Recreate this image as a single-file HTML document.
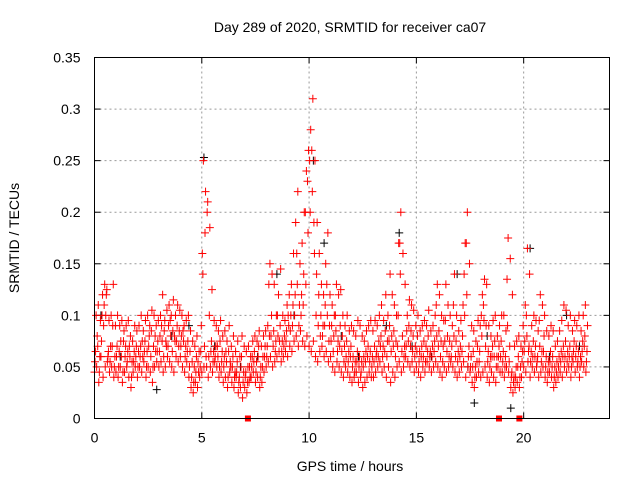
<!DOCTYPE html>
<html><head><meta charset="utf-8">
<style>
body{margin:0;background:#fff;}
svg{display:block;font-family:"Liberation Sans",sans-serif;}
</style></head>
<body>
<svg id="chart" width="640" height="480" xmlns="http://www.w3.org/2000/svg">
<text x="350" y="32" font-size="14" text-anchor="middle">Day 289 of 2020, SRMTID for receiver ca07</text>
<text x="350" y="471" font-size="14" text-anchor="middle">GPS time / hours</text>
<text transform="translate(19,238) rotate(-90)" font-size="14" text-anchor="middle">SRMTID / TECUs</text>
<g id="grid"></g><g id="ticks"></g><g id="marks"></g>
<rect x="94.5" y="57.5" width="515" height="361" fill="none" stroke="#000" stroke-width="1"/>
</svg>
<script>
const xTicks=[0,5,10,15,20];
const yTicks=[0,0.05,0.1,0.15,0.2,0.25,0.3,0.35];
const yTickLabels=["0","0.05","0.1","0.15","0.2","0.25","0.3","0.35"];
const t0=0, tStep=0.1;
const redLo=[.045,.05,.035,.06,.04,.05,.055,.045,.05,.04,.045,.04,.05,.035,.045,.05,.04,.03,.045,.05,.04,.05,.045,.055,.04,.05,.045,.035,.05,.055,.05,.055,.045,.05,.06,.055,.05,.045,.06,.055,.06,.05,.045,.055,.04,.03,.025,.035,.03,.04,.045,.05,.06,.04,.05,.045,.055,.05,.04,.045,.035,.04,.03,.045,.035,.03,.04,.025,.03,.02,.03,.025,.035,.04,.045,.035,.04,.03,.035,.045,.05,.055,.06,.05,.055,.06,.065,.055,.06,.065,.06,.07,.065,.075,.08,.07,.085,.075,.07,.08,.07,.065,.075,.06,.055,.065,.07,.06,.065,.055,.06,.05,.045,.055,.05,.045,.04,.05,.045,.04,.035,.04,.045,.035,.04,.03,.035,.04,.045,.04,.04,.045,.05,.055,.045,.05,.04,.05,.035,.045,.04,.05,.055,.045,.05,.06,.055,.05,.055,.045,.05,.045,.04,.05,.045,.055,.05,.045,.05,.055,.05,.045,.04,.05,.045,.05,.055,.05,.045,.04,.045,.05,.055,.04,.05,.045,.035,.03,.04,.045,.04,.045,.05,.04,.035,.045,.04,.035,.05,.045,.045,.04,.05,.045,.03,.025,.03,.035,.03,.04,.05,.045,.055,.04,.05,.045,.05,.04,.045,.05,.04,.035,.045,.04,.03,.035,.04,.045,.04,.05,.045,.05,.04,.055,.045,.05,.04,.055,.05,.045];
const redQ=[.055,.08,.045,.075,.09,.1,.06,.055,.07,.05,.06,.05,.075,.045,.06,.055,.07,.04,.055,.06,.05,.06,.075,.065,.05,.07,.06,.05,.08,.065,.065,.09,.06,.075,.07,.095,.065,.08,.075,.07,.07,.085,.06,.065,.05,.04,.035,.045,.055,.05,.16,.07,.05,.06,.065,.055,.06,.07,.05,.055,.05,.065,.04,.055,.05,.04,.045,.035,.05,.035,.04,.035,.05,.05,.055,.045,.06,.04,.05,.06,.06,.13,.08,.07,.065,.1,.075,.065,.07,.075,.1,.085,.09,.1,.16,.09,.1,.11,.2,.23,.25,.26,.19,.1,.09,.08,.08,.09,.13,.075,.075,.065,.1,.065,.07,.065,.055,.06,.055,.06,.05,.045,.055,.05,.045,.05,.055,.06,.055,.05,.055,.06,.06,.07,.06,.065,.06,.075,.065,.07,.06,.07,.17,.065,.06,.07,.075,.07,.065,.06,.065,.055,.06,.06,.055,.065,.06,.06,.065,.11,.07,.06,.055,.075,.065,.06,.06,.11,.06,.055,.06,.065,.14,.17,.06,.05,.05,.04,.055,.055,.1,.11,.07,.055,.05,.06,.06,.05,.06,.06,.055,.05,.135,.055,.04,.035,.04,.05,.04,.055,.065,.1,.065,.055,.06,.06,.055,.095,.055,.065,.05,.045,.055,.05,.04,.045,.05,.055,.06,.06,.055,.06,.05,.065,.06,.055,.05,.065,.07,.055];
const redMid=[.065,.07,.06,.1,.11,.12,.065,.07,.09,.06,.07,.065,.06,.075,.07,.065,.06,.055,.065,.07,.065,.07,.06,.075,.065,.08,.085,.07,.065,.075,.08,.075,.085,.07,.09,.08,.085,.075,.09,.085,.08,.075,.07,.075,.065,.055,.05,.06,.045,.065,.14,.18,.2,.1,.075,.065,.07,.06,.075,.065,.06,.055,.065,.05,.06,.045,.055,.04,.06,.045,.045,.05,.04,.06,.065,.055,.07,.05,.06,.07,.07,.08,.1,.085,.075,.08,.09,.075,.08,.085,.09,.1,.11,.12,.13,.11,.12,.14,.13,.18,.2,.22,.16,.14,.12,.1,.09,.11,.1,.09,.09,.08,.085,.075,.09,.08,.07,.075,.065,.07,.06,.055,.065,.06,.055,.06,.065,.07,.065,.06,.07,.065,.075,.08,.07,.085,.075,.09,.08,.085,.075,.1,.14,.08,.07,.085,.09,.085,.08,.07,.08,.065,.07,.075,.07,.08,.065,.07,.075,.08,.085,.075,.07,.095,.08,.075,.07,.08,.075,.065,.07,.08,.1,.12,.07,.06,.065,.05,.07,.065,.08,.095,.09,.065,.06,.07,.075,.06,.07,.075,.065,.06,.09,.07,.045,.04,.05,.06,.05,.065,.075,.08,.07,.065,.075,.07,.06,.07,.065,.08,.06,.055,.065,.06,.05,.055,.06,.065,.07,.075,.065,.07,.06,.075,.07,.065,.06,.075,.08,.065];
const redHi=[.1,.11,.095,.12,.13,.125,.095,.1,.13,.09,.1,.09,.095,.085,.09,.095,.08,.075,.09,.085,.09,.1,.085,.095,.1,.09,.105,.1,.09,.095,.1,.12,.095,.105,.11,.1,.115,.1,.11,.105,.1,.09,.095,.1,.085,.075,.07,.08,.065,.09,.25,.22,.21,.185,.125,.095,.09,.085,.095,.08,.085,.075,.09,.07,.08,.065,.075,.06,.08,.07,.065,.07,.06,.075,.08,.075,.085,.07,.08,.085,.09,.15,.14,.13,.1,.12,.145,.1,.095,.11,.12,.13,.16,.19,.22,.15,.17,.2,.24,.26,.28,.31,.25,.19,.16,.13,.12,.15,.18,.12,.11,.1,.13,.12,.125,.1,.09,.1,.085,.09,.085,.08,.095,.09,.08,.075,.085,.09,.095,.085,.095,.09,.1,.11,.095,.12,.1,.14,.12,.11,.1,.17,.2,.16,.13,.1,.115,.11,.105,.09,.1,.085,.09,.095,.09,.105,.085,.09,.1,.13,.12,.1,.095,.13,.11,.1,.09,.14,.1,.085,.095,.11,.17,.2,.15,.09,.085,.075,.095,.09,.12,.135,.13,.09,.08,.095,.1,.08,.09,.1,.1,.085,.175,.155,.12,.07,.075,.08,.07,.09,.11,.165,.14,.09,.1,.095,.085,.12,.11,.1,.085,.08,.09,.085,.07,.075,.085,.095,.11,.105,.09,.1,.085,.095,.09,.1,.085,.1,.11,.09];
const blackT=[0.3,1.2,2.9,3.6,4.4,5.1,5.6,6.8,7.6,8.5,9.3,10.2,10.7,11.5,12.3,13.6,14.2,14.8,15.7,16.9,17.4,17.7,18.3,19.4,20.3,21.2,22.0,22.6];
const blackV=[0.1,0.06,0.028,0.08,0.09,0.253,0.07,0.05,0.06,0.14,0.1,0.25,0.17,0.08,0.06,0.09,0.18,0.07,0.06,0.14,0.05,0.015,0.08,0.01,0.165,0.06,0.1,0.07];
const zeroT=[7.15,18.85,19.8];

const X0=94.5,X1=609.5,Y0=418.5,Y1=57.5;
const xs=t=>X0+(t-0)/(24-0)*(X1-X0);
const ys=v=>Y0-(v/0.35)*(Y0-Y1);
const NS="http://www.w3.org/2000/svg";
const grid=document.getElementById('grid'),ticks=document.getElementById('ticks'),marks=document.getElementById('marks');
function mk(tag,attrs,parent){const e=document.createElementNS(NS,tag);for(const k in attrs)e.setAttribute(k,attrs[k]);parent.appendChild(e);return e;}
xTicks.forEach(t=>{
  const x=xs(t);
  if(t>0){const g=mk('line',{x1:x,y1:Y0,x2:x,y2:Y1,stroke:'#999','stroke-dasharray':'2,3'},grid);
  
  }
  mk('line',{x1:x,y1:Y0,x2:x,y2:Y0-6,stroke:'#000'},ticks);
  mk('line',{x1:x,y1:Y1,x2:x,y2:Y1+6,stroke:'#000'},ticks);
  const l=mk('text',{x:x,y:Y0+24,'font-size':14,'text-anchor':'middle'},ticks);l.textContent=t;
  
  
});
yTicks.forEach((v,i)=>{
  const y=ys(v);
  if(i>0&&i<yTicks.length-1){const g=mk('line',{x1:X0,y1:y,x2:X1,y2:y,stroke:'#999','stroke-dasharray':'2,3'},grid);
  
  }
  mk('line',{x1:X0,y1:y,x2:X0+6,y2:y,stroke:'#000'},ticks);
  mk('line',{x1:X1,y1:y,x2:X1-6,y2:y,stroke:'#000'},ticks);
  const l=mk('text',{x:X0-14,y:y+5,'font-size':14,'text-anchor':'end'},ticks);l.textContent=yTickLabels[i];
  
  
});
function plus(t,v,color,name){
  const x=xs(t),y=ys(v);
  const p=mk('path',{d:`M${x-4},${y}H${x+4}M${x},${y-4}V${y+4}`,stroke:color,'stroke-width':1,fill:'none'},marks);
  
  
}
blackT.forEach((t,i)=>plus(t,blackV[i],'#000','black-point'));
[redLo,redQ,redMid,redHi].forEach((arr,k)=>{
  arr.forEach((v,i)=>plus(t0+i*tStep+k*0.025,v,'#f00','red-point'));
});
zeroT.forEach(t=>{
  const r=mk('rect',{x:xs(t)-3,y:Y0-3,width:6,height:6,fill:'#f00'},marks);
  
  
});
</script>
</body></html>
